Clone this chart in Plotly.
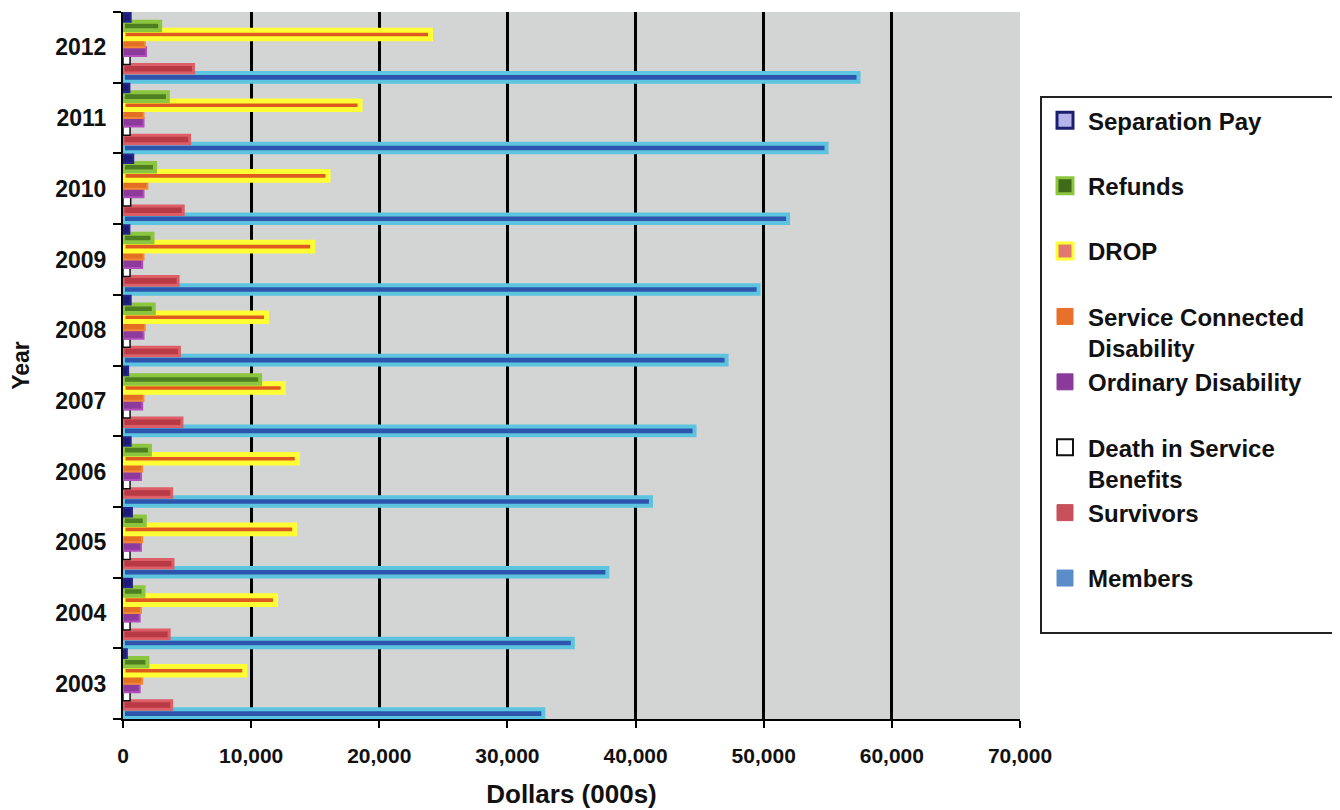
import plotly.graph_objects as go

years = ["2003", "2004", "2005", "2006", "2007", "2008", "2009", "2010", "2011", "2012"]

members = [32800, 35100, 37800, 41200, 44600, 47100, 49600, 51900, 54900, 57400]
survivors = [3800, 3600, 3900, 3800, 4600, 4400, 4300, 4700, 5200, 5500]
death_in_service = [550, 550, 550, 550, 550, 550, 550, 600, 550, 550]
ordinary_disability = [1300, 1300, 1400, 1400, 1500, 1600, 1500, 1600, 1600, 1800]
service_connected = [1500, 1400, 1500, 1500, 1600, 1700, 1600, 1900, 1600, 1700]
drop = [9500, 11900, 13400, 13600, 12500, 11200, 14800, 16000, 18500, 24000]
refunds = [1900, 1600, 1700, 2100, 10700, 2400, 2300, 2500, 3500, 2900]
separation_pay = [300, 700, 700, 600, 400, 600, 500, 800, 500, 600]

x_ticks = [0, 10000, 20000, 30000, 40000, 50000, 60000, 70000]

FONT = "Liberation Sans, Arial, sans-serif"
PAD = "\u00a0" * 5

# bar series styles
bar_series = [
    ("Members", members, "#2d55ad", "#5cc4de", 4),
    ("Survivors", survivors, "#b83a44", "#dd5e66", 3),
    ("Ordinary Disability", ordinary_disability, "#8c3a9c", "#b44cbc", 2),
    ("Death in Service Benefits", death_in_service, "#ffffff", "#111111", 1.5),
    ("Service Connected Disability", service_connected, "#e36e24", "#f08a36", 2),
    ("DROP", drop, "#de5a1e", "#ffff33", 5),
    ("Refunds", refunds, "#4e7e22", "#8cc63f", 4),
    ("Separation Pay", separation_pay, "#1c1c78", "#26268c", 2),
]
# position order within each year group, bottom to top
position_order = ["Members", "Survivors", "Death in Service Benefits", "Ordinary Disability",
                  "Service Connected Disability", "DROP", "Refunds", "Separation Pay"]

# legend entries, top to bottom
legend_items = [
    ("Separation Pay<br> ", "#b4b4ea", "#1e1e6e", 3),
    ("Refunds<br> ", "#3f6a1a", "#8cc63f", 3),
    ("DROP<br> ", "#e07a70", "#ffff33", 3),
    ("Service Connected<br>Disability", "#e8702a", "#e8702a", 1),
    ("Ordinary Disability" + PAD + "<br> ", "#8a3a9a", "#8a3a9a", 1),
    ("Death in Service<br>Benefits", "#ffffff", "#111111", 2),
    ("Survivors<br> ", "#c8505a", "#c8505a", 1),
    ("Members<br> ", "#5b8ec9", "#5b8ec9", 1),
]

fig = go.Figure()

lookup = {s[0]: s for s in bar_series}
for name in position_order:
    _, vals, fill, line, lw = lookup[name]
    fig.add_trace(go.Bar(
        y=years, x=vals, orientation="h", name=name,
        marker=dict(color=fill, line=dict(color=line, width=lw)),
        showlegend=False,
    ))

for i, (label, fill, line, lw) in enumerate(legend_items):
    fig.add_trace(go.Scatter(
        x=[None], y=[None], mode="markers", name=label,
        legendgroup=f"g{i}",
        marker=dict(symbol="square", size=16, color=fill, line=dict(color=line, width=lw)),
        showlegend=True,
    ))

# page body has an 8px margin, so the figure is shifted; compensate
fig.update_layout(
    width=1332, height=802,
    margin=dict(l=115, r=320, t=4, b=91, autoexpand=False),
    paper_bgcolor="white",
    plot_bgcolor="#d3d4d4",
    barmode="group",
    bargap=0.03,
    bargroupgap=0,
    font=dict(family=FONT, color="#111111"),
    legend=dict(
        x=1.0223, y=0.881, xanchor="left", yanchor="top",
        bgcolor="white", bordercolor="#222222", borderwidth=2,
        font=dict(family=FONT, size=24, weight="bold", color="#111111"),
        traceorder="grouped", tracegroupgap=0, valign="top",
        itemwidth=36,
    ),
    xaxis=dict(
        range=[0, 70000], tickvals=x_ticks, tickformat=",",
        showgrid=True, gridcolor="#000000", gridwidth=3,
        zeroline=False,
        showline=True, linecolor="#000000", linewidth=2,
        ticks="outside", ticklen=7, tickwidth=2, tickcolor="#000000",
        tickfont=dict(family=FONT, size=21, weight="bold", color="#111111"),
        ticklabelstandoff=10,
        title=dict(text="Dollars (000s)", font=dict(family=FONT, size=26, weight="bold", color="#111111"), standoff=19),
    ),
    yaxis=dict(
        type="category", categoryorder="array", categoryarray=years,
        showgrid=False, zeroline=False,
        showline=True, linecolor="#000000", linewidth=2,
        ticks="outside", tickson="boundaries", ticklen=8, tickwidth=2, tickcolor="#000000",
        tickfont=dict(family=FONT, size=23, weight="bold", color="#111111"),
        ticklabelstandoff=10,
        title=dict(text="Year", font=dict(family=FONT, size=23, weight="bold", color="#111111"), standoff=22),
    ),
)

fig.write_html("out.html")
